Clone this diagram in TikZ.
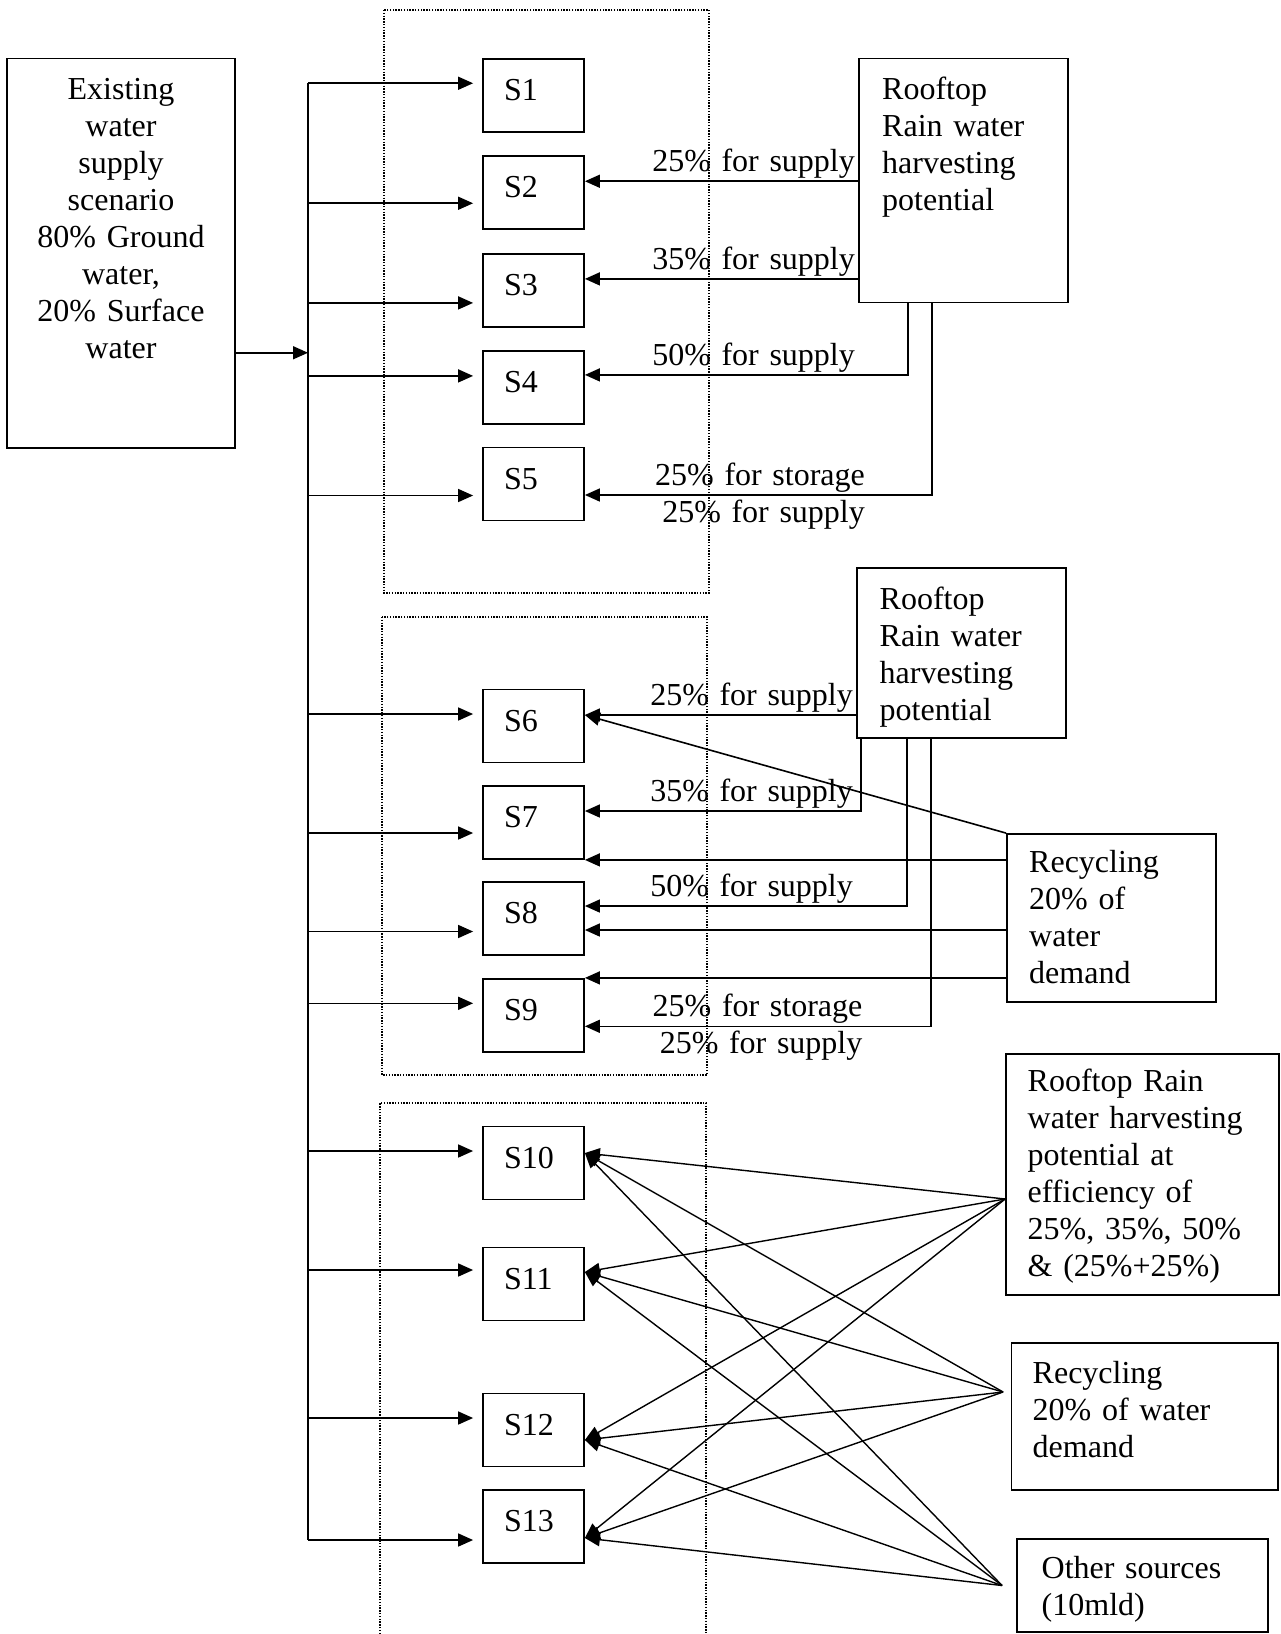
\documentclass[tikz,border=0pt]{standalone}
\usepackage{fontspec}
\setmainfont{Liberation Serif}
\usetikzlibrary{arrows.meta}

\begin{document}
\begin{tikzpicture}[x=1pt, y=-1pt,
		every node/.style={font=\fontsize{32}{37}\selectfont},
		box/.style={draw, line width=1.8pt, inner sep=0pt},
		sbox/.style={box, minimum width=101pt, minimum height=73pt, text width=59pt,
			inner xsep=21pt, align=left, text height=22pt, text depth=12pt},
		txt/.style={anchor=base west, inner sep=0pt, text width=250pt, align=left},
		lbl/.style={anchor=base east, inner sep=0pt, text width=230pt, align=right,
			xshift=-3pt, yshift=9.5pt},
		line/.style={line width=1.6pt},
		arr/.style={line, -{Triangle[length=15pt, width=13pt]}},
		fan/.style={arr, line width=1.4pt},
		grp/.style={line width=1.2pt, dash pattern=on 1.4pt off 1.4pt}]
	\useasboundingbox (0,0) rectangle (1281,1634);

	% scenario groups
	\draw[grp] (384,10) rectangle (709,593);
	\draw[grp] (382,617) rectangle (707,1075);
	\draw[grp] (380,1634) -- (380,1103) -- (706,1103) -- (706,1634);

	% scenarios: name/centre/left arrow shift/right arrow shift
	\foreach \n/\y/\a/\b in {1/95.25/12/0, 2/192.75/-10.5/11.5, 3/290.4/-12.5/11.5,
			4/387.4/11.5/12.5, 5/484/-11.5/-11, 6/726/12/11, 7/822.5/-10.5/11.5,
			8/918.5/-13/12.5, 9/1015.3/12/-11, 10/1163/12/10, 11/1284/14/12,
			12/1430/12/-10, 13/1526.5/-13.5/-11.5}
	{
		\node[sbox] (S\n) at (533.5,\y) {S\n};
		\coordinate (S\n-in) at ([yshift=\a pt]S\n.west);
		\coordinate (S\n-r) at ([yshift=\b pt]S\n.east);
	}

	% existing supply and the common feed line
	\node[box, minimum width=228pt, minimum height=389.5pt] (exist) at (121,253.25) {};
	\node[txt, anchor=base, text width=220pt, align=center] (exist-txt) at (121,99)
		{Existing\\water\\supply\\scenario\\80\% Ground\\water,\\20\% Surface\\water};
	\coordinate (bus) at (308,0);
	\coordinate (exist-out) at ([yshift=-99.5pt]exist.east);
	\draw[arr] (exist-out) -- (bus |- exist-out);
	\draw[line] (bus |- S1-in) -- (bus |- S13-in);
	\foreach \n in {1,...,13}
		\draw[arr, shorten >=9pt] (bus |- S\n-in) -- (S\n-in);

	% rooftop harvesting, S2 - S5
	\node[box, minimum width=209pt, minimum height=244pt] (roof1) at (963.5,180.5) {};
	\node[txt] (roof1-txt) at (882,99) {Rooftop\\Rain water\\harvesting\\potential};
	\draw[arr] (roof1.west |- S2-r) -- (S2-r);
	\draw[arr] (roof1.west |- S3-r) -- (S3-r);
	\draw[arr] ([xshift=50pt]roof1.south west) |- (S4-r);
	\draw[arr] ([xshift=74pt]roof1.south west) |- (S5-r);
	\node[lbl] (lbl2) at (roof1.west |- S2-r) {25\% for supply};
	\node[lbl] (lbl3) at (roof1.west |- S3-r) {35\% for supply};
	\node[lbl] (lbl4) at (roof1.west |- S4-r) {50\% for supply};
	\node[lbl, xshift=10pt] (lbl5) at (roof1.west |- S5-r) {25\% for storage\\25\% for supply};

	% rooftop harvesting with recycling, S6 - S9
	\node[box, minimum width=209pt, minimum height=170pt] (roof2) at (961.5,653) {};
	\node[txt] (roof2-txt) at (879.5,609) {Rooftop\\Rain water\\harvesting\\potential};
	\draw[arr] (roof2.west |- S6-r) -- (S6-r);
	\draw[arr] ([xshift=5pt]roof2.south west) |- (S7-r);
	\draw[arr] ([xshift=51pt]roof2.south west) |- (S8-r);
	\draw[arr] ([xshift=75pt]roof2.south west) |- (S9-r);
	\node[lbl] (lbl6) at (roof2.west |- S6-r) {25\% for supply};
	\node[lbl] (lbl7) at (roof2.west |- S7-r) {35\% for supply};
	\node[lbl] (lbl8) at (roof2.west |- S8-r) {50\% for supply};
	\node[lbl, xshift=9.5pt] (lbl9) at (roof2.west |- S9-r) {25\% for storage\\25\% for supply};

	\node[box, minimum width=209pt, minimum height=168pt] (rec1) at (1111.5,918) {};
	\node[txt] (rec1-txt) at (1029,872) {Recycling\\20\% of\\water\\demand};
	\coordinate (S8-r2) at ([yshift=-11.5pt]S8.east);
	\draw[arr] (rec1.north west) -- (S6-r);
	\draw[arr] (rec1.west |- S7.south east) -- (S7.south east);
	\draw[arr] (rec1.west |- S8-r2) -- (S8-r2);
	\draw[arr] (rec1.west |- S9.north east) -- (S9.north east);

	% combined sources, S10 - S13
	\node[box, minimum width=273pt, minimum height=241pt] (rrwh) at (1142.5,1174.5) {};
	\node[txt] (rrwh-txt) at (1027.5,1091)
		{Rooftop Rain\\water harvesting\\potential at\\efficiency of\\25\%, 35\%, 50\%\\\& (25\%+25\%)};
	\node[box, minimum width=266.5pt, minimum height=147pt] (rec2) at (1144.75,1416.5) {};
	\node[txt] (rec2-txt) at (1032.5,1383) {Recycling\\20\% of water\\demand};
	\node[box, minimum width=251pt, minimum height=93pt] (other) at (1142.5,1585.5) {};
	\node[txt] (other-txt) at (1041.5,1578) {Other sources\\(10mld)};

	\coordinate (rrwh-out) at ([yshift=-24.5pt]rrwh.west);
	\coordinate (rec2-out) at ([xshift=-7.5pt, yshift=24.5pt]rec2.west);
	\coordinate (other-out) at ([xshift=-14pt]other.west);
	\foreach \src in {rrwh, rec2, other}
		\foreach \n in {10,...,13}
			\draw[fan] (\src-out) -- (S\n-r);
\end{tikzpicture}
\end{document}
